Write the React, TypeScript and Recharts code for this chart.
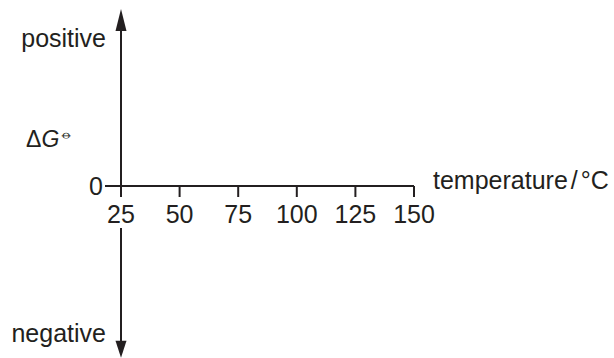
// Sketch-style ΔG⦵ vs temperature axes (no data series, just the labelled frame).

import { LineChart, XAxis, YAxis, ReferenceLine, Label } from 'recharts'

const temperatures = [25, 50, 75, 100, 125, 150]
const gTicks = [0]
const gDomain = [0, 1]
// vertical ΔG axis: upper half goes to +1, lower half runs below the x axis
const upperSegment = [{ x: 25, y: 1 }, { x: 25, y: 0 }]
const lowerSegment = [{ x: 25, y: 0 }, { x: 25, y: -0.97 }]

const chartData = temperatures.map((t) => ({ temperature: t }))

const INK = '#231f20'
const FONT = '"Liberation Sans", Arial, Helvetica, sans-serif'

const UpArrow = (p: any) => {
  const x = p.x1
  const top = Math.min(p.y1, p.y2)
  const bottom = Math.max(p.y1, p.y2)
  return (
    <g>
      <line x1={x} y1={top + 12} x2={x} y2={bottom} stroke={INK} strokeWidth={2} />
      <path d={`M${x},${top - 1} L${x - 5.5},${top + 21} L${x + 5.5},${top + 21} Z`} fill={INK} />
    </g>
  )
}

const DownArrow = (p: any) => {
  const x = p.x1
  const top = Math.min(p.y1, p.y2)
  const bottom = Math.max(p.y1, p.y2)
  // leave a gap where the "25" tick label sits
  return (
    <g>
      <line x1={x} y1={top + 42} x2={x} y2={bottom - 10} stroke={INK} strokeWidth={2} />
      <path d={`M${x},${bottom + 1} L${x - 5.5},${bottom - 16} L${x + 5.5},${bottom - 16} Z`} fill={INK} />
    </g>
  )
}

const textStyle = { fontFamily: FONT, fontSize: 25, fill: INK }

export default function App() {
  return (
    <div style={{ position: 'absolute', left: 0, top: 0, background: '#fff' }}>
      <LineChart width={614} height={358} data={chartData} margin={{ top: 10, right: 200, bottom: 142, left: 0 }}>
        <XAxis
          dataKey="temperature"
          type="number"
          domain={[25, 150]}
          allowDataOverflow
          ticks={temperatures}
          interval={0}
          height={30}
          axisLine={{ stroke: INK, strokeWidth: 2 }}
          tickLine={{ stroke: INK, strokeWidth: 2 }}
          tickSize={11}
          tickMargin={8}
          tick={textStyle}
        >
          <Label
            content={(props: any) => {
              const vb = props.viewBox
              return (
                <text x={vb.x + vb.width + 19} y={vb.y + 3} {...textStyle}>
                  temperature<tspan dx={3}>/</tspan><tspan dx={3}>°C</tspan>
                </text>
              )
            }}
          />
        </XAxis>
        <YAxis
          type="number"
          domain={gDomain}
          allowDataOverflow
          ticks={gTicks}
          width={121}
          axisLine={false}
          tickLine={{ stroke: INK, strokeWidth: 2 }}
          tickSize={16}
          tickMargin={2}
          tick={textStyle}
        >
          <Label
            content={(props: any) => {
              const vb = props.viewBox
              return (
                <text x={vb.x + 26} y={vb.y + vb.height - 39} fontFamily={FONT} fontSize={23} fill={INK}>
                  <tspan fontStyle="normal">Δ</tspan>
                  <tspan fontStyle="italic">G</tspan>
                  <tspan fontFamily='"DejaVu Sans", sans-serif' fontSize={14} dx={2} dy={-8}>⦵</tspan>
                </text>
              )
            }}
          />
        </YAxis>
        <ReferenceLine
          segment={upperSegment}
          ifOverflow="visible"
          shape={UpArrow}
          label={(props: any) => {
            const vb = props.viewBox
            return (
              <text x={vb.x - 15} y={vb.y + 37} textAnchor="end" {...textStyle}>
                positive
              </text>
            )
          }}
        />
        <ReferenceLine
          segment={lowerSegment}
          ifOverflow="visible"
          shape={DownArrow}
          label={(props: any) => {
            const vb = props.viewBox
            return (
              <text x={vb.x - 15} y={vb.y + vb.height - 15} textAnchor="end" {...textStyle}>
                negative
              </text>
            )
          }}
        />
      </LineChart>
    </div>
  )
}
